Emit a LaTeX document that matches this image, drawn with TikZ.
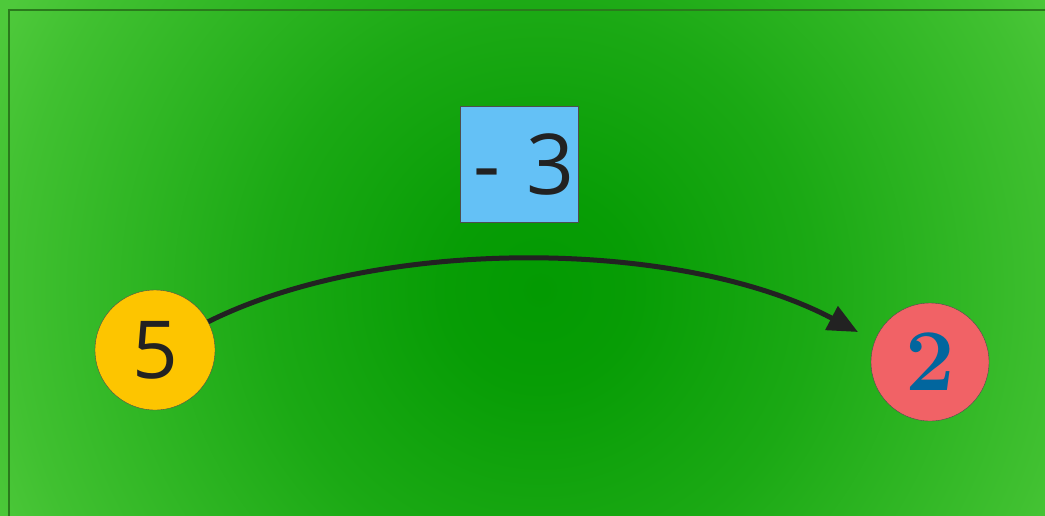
\documentclass[tikz,border=0pt]{standalone}
\usepackage{fontspec}
\setsansfont{Open Sans}
\usetikzlibrary{arrows.meta}
\definecolor{bgdark}{HTML}{039A02}
\definecolor{bglight}{HTML}{4EC93B}
\definecolor{framegreen}{HTML}{2A7A1C}
\definecolor{ballyellow}{HTML}{FDC500}
\definecolor{ballred}{HTML}{F16266}
\definecolor{opblue}{HTML}{64C1F6}
\definecolor{digitblue}{HTML}{02669E}
\definecolor{ink}{HTML}{222222}
\pgfdeclareradialshading{field}{\pgfpoint{0bp}{0bp}}{%
  color(0bp)=(bgdark); color(4bp)=(bgdark!94!bglight); color(11.5bp)=(bgdark!68!bglight);
  color(22bp)=(bgdark!18!bglight); color(25bp)=(bglight); color(50bp)=(bglight)}

\begin{document}
\begin{tikzpicture}[x=1pt,y=-1pt]
  % background field and frame
  \clip (0,0) rectangle (1045,515);
  \shade[shading=field] (-60,-310) rectangle (1140,890);
  \draw[framegreen,line width=1.6pt] (9,10) rectangle (1070,540);
  % start and end values
  \node[circle,draw=ink!80,thin,fill=ballyellow,minimum size=120pt,inner sep=0pt,
        text=ink,font=\sffamily\fontsize{80}{80}\selectfont] (five) at (155,350) {5};
  \node[circle,draw=ink!80,thin,fill=ballred,minimum size=118pt,inner sep=0pt,
        text=digitblue,font=\bfseries\fontsize{88}{88}\selectfont] (two) at (930,362) {2};
  % the operation
  \node[draw=ink!80,thin,fill=opblue,minimum width=118pt,minimum height=116pt,inner sep=0pt,
        text=ink,font=\sffamily\fontsize{84}{84}\selectfont] (op) at (519,164) {\hspace*{11pt}-\hspace{26pt}3};
  \coordinate (tip) at (858,332);
  \draw[ink,line width=5pt,-{Triangle[length=30pt,width=26pt]}]
    (five.28) .. controls (380,236) and (680,238) .. (tip);
\end{tikzpicture}
\end{document}
